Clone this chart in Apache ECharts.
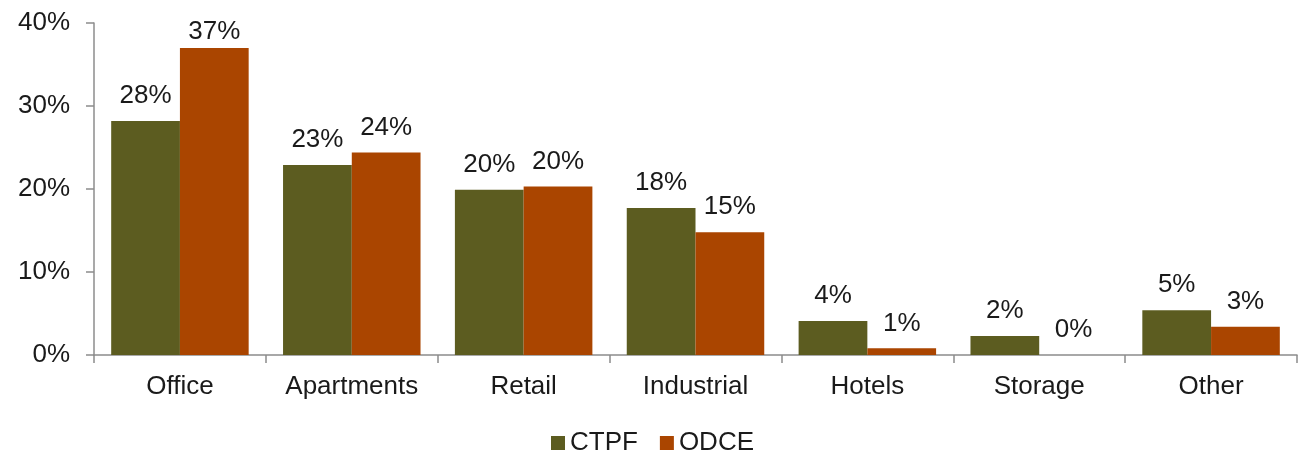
<!DOCTYPE html>
<html>
<head>
<meta charset="utf-8">
<script src="https://cdn.jsdelivr.net/npm/echarts@6/dist/echarts.min.js"></script>
<style>
  html, body { margin: 0; padding: 0; background: #fff; }
  #chart { width: 1305px; height: 451px; }
</style>
</head>
<body>
<div id="chart"></div>
<script>
// Property-type allocation, percent
const categories = ['Office', 'Apartments', 'Retail', 'Industrial', 'Hotels', 'Storage', 'Other'];
const ctpf = [28.2, 22.9, 19.9, 17.7, 4.1, 2.3, 5.4];
const odce = [37.0, 24.4, 20.3, 14.8, 0.8, 0.0, 3.4];
const yTicks = [0, 10, 20, 30, 40];

const FONT = '"Liberation Sans", Arial, sans-serif';
const FONT_SIZE = 26;
const TEXT_COLOR = '#1a1a1a';
const AXIS_COLOR = '#8c8c8c';
const Y_MAX = yTicks[yTicks.length - 1];

const valueLabel = {
  show: true,
  position: 'top',
  distance: 12,
  fontFamily: FONT,
  fontSize: FONT_SIZE,
  color: TEXT_COLOR,
  formatter: p => Math.round(p.value) + '%'
};

// Labels of bars reaching near the top of the plot sit closer to the bar
const toItems = arr => arr.map(v => (v > Y_MAX - 5 ? { value: v, label: { distance: 3 } } : v));

const chart = echarts.init(document.getElementById('chart'), null, { renderer: 'canvas' });
chart.setOption({
  animation: false,
  grid: { left: 94, right: 8, top: 23, bottom: 96, containLabel: false },
  legend: {
    top: 425,
    left: 'center',
    itemWidth: 14,
    itemHeight: 14,
    itemGap: 22,
    icon: 'rect',
    textStyle: { fontFamily: FONT, fontSize: FONT_SIZE, color: TEXT_COLOR },
    data: ['CTPF', 'ODCE']
  },
  xAxis: {
    type: 'category',
    data: categories,
    axisLine: { lineStyle: { color: AXIS_COLOR, width: 1.5 } },
    axisTick: { show: true, interval: 0, length: 8, lineStyle: { color: AXIS_COLOR, width: 1.5 } },
    axisLabel: { interval: 0, fontFamily: FONT, fontSize: FONT_SIZE, color: TEXT_COLOR, margin: 19 }
  },
  yAxis: {
    type: 'value',
    min: yTicks[0],
    max: Y_MAX,
    interval: 10,
    axisLine: { show: true, lineStyle: { color: AXIS_COLOR, width: 1.5 } },
    axisTick: { show: true, length: 8, lineStyle: { color: AXIS_COLOR, width: 1.5 } },
    splitLine: { show: false },
    axisLabel: {
      fontFamily: FONT, fontSize: FONT_SIZE, color: TEXT_COLOR, margin: 24,
      formatter: v => v + '%'
    }
  },
  series: [
    {
      name: 'CTPF', type: 'bar', data: toItems(ctpf),
      barWidth: '40%', barGap: '0%',
      itemStyle: { color: '#5c5c20' },
      label: valueLabel
    },
    {
      name: 'ODCE', type: 'bar', data: toItems(odce),
      barWidth: '40%', barGap: '0%',
      itemStyle: { color: '#aa4500' },
      label: valueLabel
    }
  ]
});
</script>
</body>
</html>
